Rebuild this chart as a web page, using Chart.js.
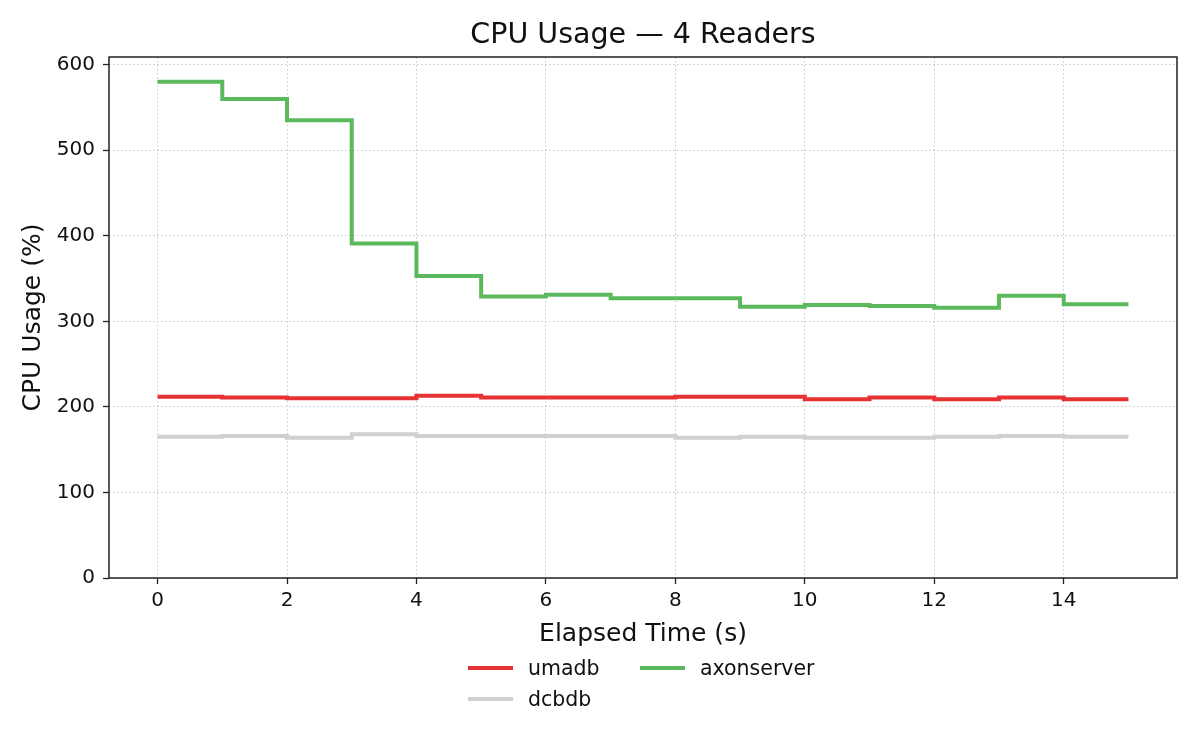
<!DOCTYPE html>
<html lang="en">
<head>
  <meta charset="UTF-8">
  <title>CPU Usage — 4 Readers</title>
  <style>
    html, body { margin: 0; padding: 0; background: #fff; }
    #wrap { position: relative; width: 1200px; height: 750px; }
    #legend { position: absolute; left: 0; top: 0; font-family: 'DejaVu Sans', sans-serif; font-size: 20.5px; color: #111; }
    .item { position: absolute; height: 24px; line-height: 24px; white-space: nowrap; }
    .swatch { position: absolute; left: 0; top: 10px; width: 45px; height: 4px; }
    .item span { position: absolute; left: 60px; top: 0; }
  </style>
</head>
<body>
<div id="wrap">
  <canvas id="myChart" width="1200" height="750"></canvas>
  <div id="legend"></div>
</div>
<script src="https://cdn.jsdelivr.net/npm/chart.js@4.4.0/dist/chart.umd.min.js"></script>
<script>
  // data (one sample per second, drawn as steps-post)
  const seconds = [0, 1, 2, 3, 4, 5, 6, 7, 8, 9, 10, 11, 12, 13, 14, 15];
  const umadb = [212, 211, 210, 210, 213, 211, 211, 211, 212, 212, 209, 211, 209, 211, 209, 209];
  const dcbdb = [165, 166, 164, 168, 166, 166, 166, 166, 164, 165, 164, 164, 165, 166, 165, 165];
  const axonserver = [580, 560, 535, 391, 353, 329, 331, 327, 327, 317, 319, 318, 316, 330, 320, 320];

  const xTicks = [0, 2, 4, 6, 8, 10, 12, 14];
  const yTicks = [0, 100, 200, 300, 400, 500, 600];

  const FONT = 'DejaVu Sans';
  const pts = ys => seconds.map((x, i) => ({x, y: ys[i]}));

  const series = [
    {label: 'umadb', values: umadb, color: '#e63232'},
    {label: 'dcbdb', values: dcbdb, color: '#d0d0d0'},
    {label: 'axonserver', values: axonserver, color: '#5cb85c'}
  ];

  // full box around the plot, like matplotlib spines
  const frame = {
    id: 'frame',
    afterDraw(chart) {
      const {ctx, chartArea: a} = chart;
      ctx.save();
      ctx.strokeStyle = '#222';
      ctx.lineWidth = 1.5;
      ctx.strokeRect(a.left, a.top, a.right - a.left, a.bottom - a.top);
      ctx.restore();
    }
  };

  const grid = {
    color: '#c8c8c8',
    lineWidth: 1,
    tickColor: '#222',
    tickLength: 6,
    tickWidth: 1.3
  };

  const ctx = document.getElementById('myChart').getContext('2d');
  const chart = new Chart(ctx, {
    type: 'line',
    data: {
      datasets: series.map(s => ({
        label: s.label,
        data: pts(s.values),
        borderColor: s.color,
        backgroundColor: s.color,
        borderWidth: 4,
        // chart.js 'before' = hold the value until the next sample
        stepped: 'before',
        pointRadius: 0,
        fill: false
      }))
    },
    options: {
      responsive: false,
      animation: false,
      layout: { padding: { left: 0, right: 23, top: 0, bottom: 0 } },
      plugins: {
        legend: { display: false },
        tooltip: { enabled: false },
        title: {
          display: true,
          fullSize: false,
          text: 'CPU Usage — 4 Readers',
          color: '#111',
          font: { family: FONT, size: 28.5, weight: 'normal' },
          padding: { top: 18, bottom: 4.8 }
        }
      },
      scales: {
        x: {
          type: 'linear',
          min: -0.75,
          max: 15.75,
          afterBuildTicks: s => { s.ticks = xTicks.map(v => ({value: v})); },
          afterFit: s => { s.height = 172; s.paddingLeft = 0; s.paddingRight = 0; },
          grid: grid,
          border: { display: false, dash: [1.5, 2.5] },
          ticks: { color: '#111', padding: 5, font: { family: FONT, size: 20 } },
          title: {
            display: true,
            text: 'Elapsed Time (s)',
            color: '#111',
            font: { family: FONT, size: 25 },
            padding: { top: 4, bottom: 101 }
          }
        },
        y: {
          min: 0,
          max: 609,
          afterBuildTicks: s => { s.ticks = yTicks.map(v => ({value: v})); },
          afterFit: s => { s.width = 109; s.paddingTop = 0; s.paddingBottom = 0; },
          grid: grid,
          border: { display: false, dash: [1.5, 2.5] },
          ticks: { color: '#111', padding: 8, font: { family: FONT, size: 20 } },
          title: {
            display: true,
            text: 'CPU Usage (%)',
            color: '#111',
            font: { family: FONT, size: 25 },
            padding: { top: 18, bottom: 0 }
          }
        }
      }
    },
    plugins: [frame]
  });

  // legend in two columns, filled column by column
  const legend = document.getElementById('legend');
  const cols = [468, 640];
  const rows = [656, 687];
  chart.data.datasets.forEach((ds, i) => {
    const item = document.createElement('div');
    item.className = 'item';
    item.style.left = cols[Math.floor(i / 2)] + 'px';
    item.style.top = rows[i % 2] + 'px';
    item.innerHTML = '<div class="swatch" style="background:' + ds.borderColor + '"></div><span>' + ds.label + '</span>';
    legend.appendChild(item);
  });
</script>
</body>
</html>
